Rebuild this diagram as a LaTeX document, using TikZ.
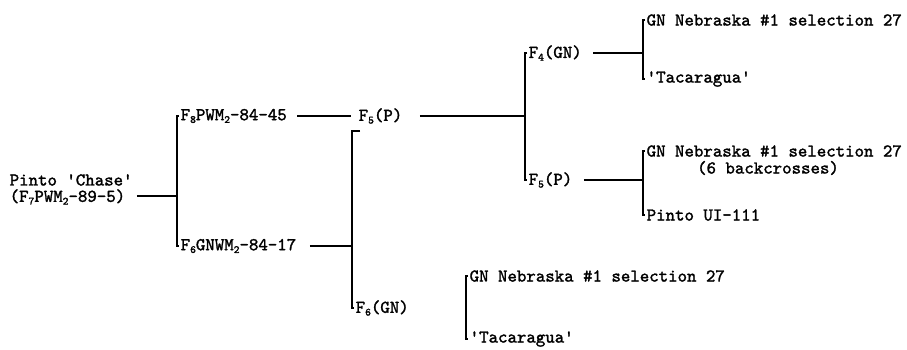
\documentclass[tikz,border=0pt]{standalone}
\usepackage{fontspec}
\newfontfamily\tyb{lmmono10-regular.otf}[FakeBold=1.6]
\newcommand\sbs[1]{\raisebox{-0.35ex}{\fontsize{11}{11}\selectfont #1}}
\newcommand\q{\textquotesingle}
\tikzset{
  lbl/.style={anchor=west,inner xsep=1.5pt,inner ysep=0pt,font=\tyb\fontsize{18}{18}\selectfont},
  ctr/.style={anchor=center,inner sep=0pt,font=\tyb\fontsize{18}{18}\selectfont},
  ln/.style={line width=1.3pt,line cap=butt}
}
\begin{document}
\begin{tikzpicture}[x=1pt,y=-1pt]
\useasboundingbox (0,0) rectangle (907,350);
% root
\node[lbl] (pc) at (8,180) {Pinto \q Chase\q};
\node[lbl] (pc2) at (8,197) {(F\sbs{7}PWM\sbs{2}-89-5)};
% bracket A
\coordinate (aT) at (177,116);
\coordinate (aB) at (177,246);
\coordinate (aM) at (177,196);
\node[lbl] (f8) at (179,116) {F\sbs{8}PWM\sbs{2}-84-45};
\node[lbl] (f6w) at (179,246) {F\sbs{6}GNWM\sbs{2}-84-17};
\draw[ln] (f8.west) -- (aT) -- (aB) -- (f6w.west);
\draw[ln] ([xshift=10pt]aM -| pc2.east) -- (aM);
% F5(P)
\node[lbl] (f5) at (357,116) {F\sbs{5}(P)};
\draw[ln] ([xshift=9pt]f8.east) -- ([xshift=-6pt]f5.west);
% bracket B
\coordinate (bT) at (525,53);
\coordinate (bB) at (525,180);
\coordinate (bM) at (525,116);
\node[lbl] (f4) at (527,53) {F\sbs{4}(GN)};
\node[lbl] (f5b) at (527,180) {F\sbs{5}(P)};
\draw[ln] (f4.west) -- (bT) -- (bB) -- (f5b.west);
\draw[ln] ([xshift=16pt]f5.east) -- (bM);
% bracket C
\coordinate (cT) at (643,20);
\coordinate (cB) at (643,79);
\coordinate (cM) at (643,53);
\node[lbl] (gn1) at (645,20) {GN Nebraska \#1 selection 27};
\node[lbl] (tac1) at (645,79) {\q Tacaragua\q};
\draw[ln] (gn1.west) -- (cT) -- (cB) -- (tac1.west);
\draw[ln] ([xshift=10pt]f4.east) -- (cM);
% bracket D
\coordinate (dT) at (643,151);
\coordinate (dB) at (643,215);
\coordinate (dM) at (643,180);
\node[lbl] (gn2) at (645,151) {GN Nebraska \#1 selection 27};
\node[ctr] (bc) at (768,168) {(6 backcrosses)};
\node[lbl] (pui) at (645,215) {Pinto UI-111};
\draw[ln] (gn2.west) -- (dT) -- (dB) -- (pui.west);
\draw[ln] ([xshift=10pt]f5b.east) -- (dM);
% bracket E
\coordinate (eT) at (352,131);
\coordinate (eTt) at (360,131);
\coordinate (eB) at (352,308);
\coordinate (eM) at (352,246);
\node[lbl] (f6gn) at (354,308) {F\sbs{6}(GN)};
\draw[ln] (eTt) -- (eT) -- (eB) -- (f6gn.west);
\draw[ln] ([xshift=12pt]f6w.east) -- (eM);
% bracket F
\coordinate (fT) at (466,276);
\coordinate (fB) at (466,339);
\node[lbl] (gn3) at (468,276) {GN Nebraska \#1 selection 27};
\node[lbl] (tac2) at (468,339) {\q Tacaragua\q};
\draw[ln] (gn3.west) -- (fT) -- (fB) -- (tac2.west);
\end{tikzpicture}
\end{document}
